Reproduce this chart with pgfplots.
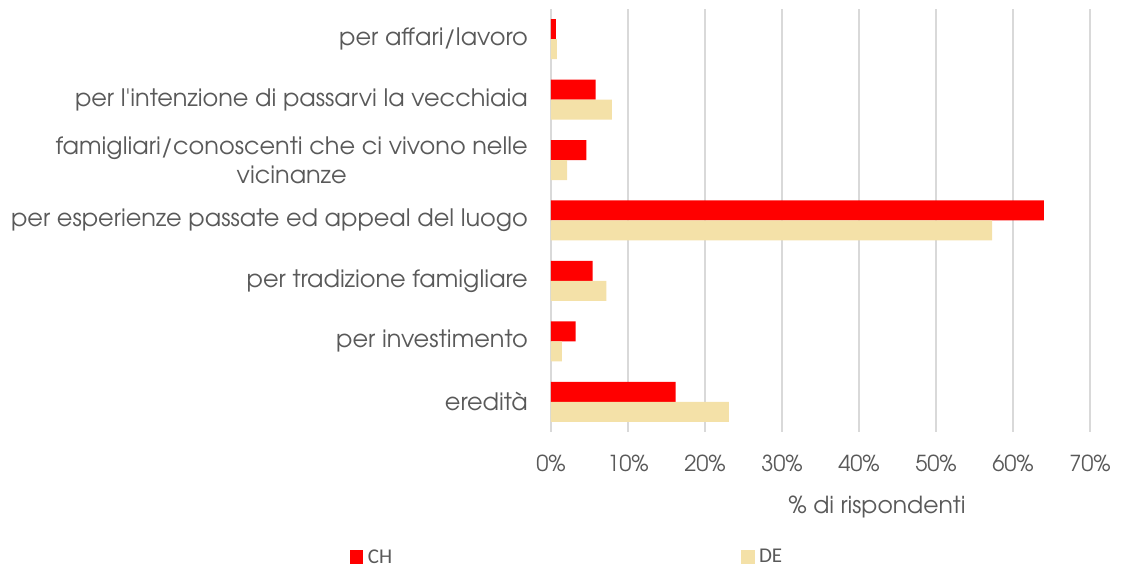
\documentclass[border=0pt]{standalone}
\usepackage{pgfplots}
\pgfplotsset{compat=1.18}
\usepackage{fontspec}
\newfontfamily\advent{texgyreadventor-regular.otf}
\newfontfamily\legfont{Carlito}
\definecolor{chred}{RGB}{255,0,0}
\definecolor{debeige}{RGB}{244,225,168}
\definecolor{txtgray}{RGB}{89,89,89}
\definecolor{gridgray}{RGB}{217,217,217}

\begin{document}
\begin{tikzpicture}
% picture area in px-sized points, axis box at (0,0)-(539,423)
\useasboundingbox (-551pt,-135pt) rectangle (577pt,432pt);
\begin{axis}[
  at={(0pt,0pt)}, anchor=south west,
  scale only axis,
  width=539pt, height=423pt,
  xbar, bar width=20pt,
  xmin=0, xmax=70,
  ymin=-0.5, ymax=6.5,
  xtick={0,10,...,70},
  xticklabels={0\%,10\%,20\%,30\%,40\%,50\%,60\%,70\%},
  ytick={0,...,6},
  yticklabels={eredità,per investimento,per tradizione famigliare,per esperienze passate ed appeal del luogo,{famigliari/conoscenti che ci vivono nelle\\vicinanze},per l'intenzione di passarvi la vecchiaia,per affari/lavoro},
  xmajorgrids,
  grid style={gridgray, line width=1.5pt},
  axis line style={draw=none},
  major tick length=0pt,
  tick label style={text=txtgray},
  yticklabel style={font=\advent\fontsize{24}{29}\selectfont, align=center, inner sep=0pt, xshift=-23pt},
  xticklabel style={font=\advent\fontsize{22}{26}\selectfont, anchor=base, inner sep=0pt, yshift=-40pt},
  xlabel={\% di rispondenti},
  xlabel style={at={(axis description cs:0.605,0)}, anchor=base, inner sep=0pt,
    yshift=-82pt, font=\advent\fontsize{23.5}{26}\selectfont, text=txtgray},
  legend columns=2,
  legend style={at={(axis description cs:-0.373,-0.2955)}, anchor=west,
    draw=none, fill=none, inner sep=0pt,
    font=\legfont\fontsize{21}{24}\selectfont, text=txtgray,
    /tikz/every even column/.append style={column sep=347pt}},
  legend cell align=left,
]
\addplot[fill=chred, draw=none, bar shift=10pt,
  legend image code/.code={\fill[chred] (0pt,-6.6pt) rectangle (13.3pt,6.6pt); \path (15.8pt,0pt);}]
  coordinates {(0.65,6) (5.8,5) (4.6,4) (64.0,3) (5.4,2) (3.2,1) (16.2,0)};
\addplot[fill=debeige, draw=none, bar shift=-10pt,
  legend image code/.code={\fill[debeige] (0pt,-6.6pt) rectangle (13.3pt,6.6pt); \path (15.8pt,0pt);}]
  coordinates {(0.75,6) (7.9,5) (2.1,4) (57.3,3) (7.2,2) (1.4,1) (23.1,0)};
\legend{CH,DE}
\end{axis}
\end{tikzpicture}
\end{document}
